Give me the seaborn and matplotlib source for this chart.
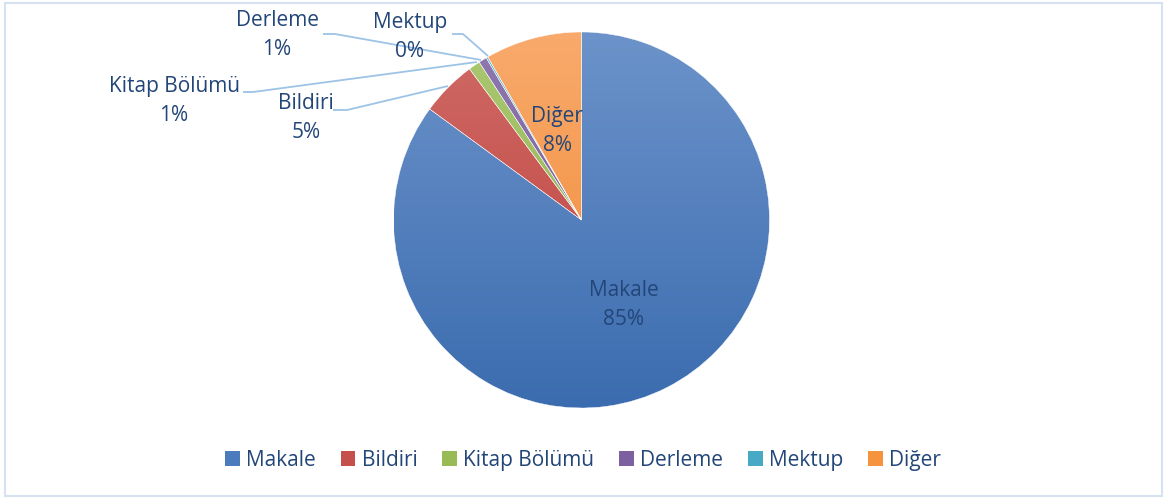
import numpy as np
import matplotlib
matplotlib.use("Agg")
import matplotlib.pyplot as plt
import seaborn as sns
from matplotlib.patches import Rectangle
from matplotlib.colors import LinearSegmentedColormap

categories = ["Makale", "Bildiri", "Kitap Bölümü", "Derleme", "Mektup", "Diğer"]
values = [85.0, 4.8, 1.0, 0.7, 0.15, 8.3]
pct_labels = ["85%", "5%", "1%", "1%", "0%", "8%"]
top_colors = ["#6c93ca", "#cf6a66", "#abc873", "#9079b0", "#62b8d0", "#f9aa6c"]
bottom_colors = ["#3b6caf", "#bf3e3a", "#8cae45", "#70558f", "#3a9cb6", "#ef8730"]
legend_colors = ["#4a7cbd", "#c44f4b", "#98bb55", "#7d60a0", "#47a9c3", "#f5933f"]

sns.set_theme(style="white")
plt.rcParams['font.family'] = ['Open Sans', 'DejaVu Sans']
text_color = "#234678"

W, H = 1166, 499
fig = plt.figure(figsize=(W / 100, H / 100), dpi=100)
ax = fig.add_axes([0, 0, 1, 1])
cx, cy, R = 581.5, 220, 188

wedges, _ = ax.pie(values, startangle=90, counterclock=False, radius=1,
                   colors=legend_colors, wedgeprops=dict(linewidth=0))
ax.set_xlim(-cx / R, (W - cx) / R)
ax.set_ylim((cy - H) / R, cy / R)
ax.set_aspect('auto')
ax.axis('off')

# gradient fill for each wedge
grad = np.linspace(0, 1, 256).reshape(-1, 1)
for w, tc, bc in zip(wedges, top_colors, bottom_colors):
    cmap = LinearSegmentedColormap.from_list("g", [bc, tc])
    im = ax.imshow(grad, cmap=cmap, extent=(-1, 1, -1, 1), origin='lower',
                   aspect='auto', zorder=w.get_zorder() + 0.1)
    im.set_clip_path(w)
for w in wedges:
    w.set_edgecolor("white")
    w.set_linewidth(0.3)
    w.set_facecolor("none")
    w.set_zorder(5)

def d(px, py):
    return ((px - cx) / R, (cy - py) / R)

fs = 15
ls = 1.45
ax.text(*d(624, 305), f"{categories[0]}\n{pct_labels[0]}", ha='center', va='center',
        fontsize=fs, color=text_color, linespacing=ls, zorder=10)
ax.text(*d(557, 131), f"{categories[5]}\n{pct_labels[5]}", ha='center', va='center',
        fontsize=fs, color=text_color, linespacing=ls, zorder=10)

outside = [
    (1, (306, 118), [(333, 110), (347, 110), (448, 86)]),
    (2, (174, 101), [(243, 92), (253, 92), (477, 62)]),
    (3, (277, 35), [(323, 34), (335, 34), (481, 60)]),
    (4, (410, 37), [(452, 34), (463, 34), (488, 56)]),
]
for idx, (tx, ty), pts in outside:
    ax.text(*d(tx, ty), f"{categories[idx]}\n{pct_labels[idx]}", ha='center', va='center',
            fontsize=fs, color=text_color, linespacing=ls, zorder=10)
    xs, ys = zip(*[d(px, py) for px, py in pts])
    ax.plot(xs, ys, color="#9dc3e6", lw=1.3, zorder=9, solid_capstyle='butt')

handles = [Rectangle((0, 0), 1, 1, facecolor=c, edgecolor='none') for c in legend_colors]
leg = fig.legend(handles, categories, loc='center', bbox_to_anchor=(0.5, 0.078),
                 ncol=6, frameon=False, fontsize=15, handlelength=0.7, handleheight=0.7,
                 handletextpad=0.3, columnspacing=1.2)
for t in leg.get_texts():
    t.set_color(text_color)

fig.patches.append(Rectangle((5 / W, 3 / H), (1162 - 5) / W, (496 - 3) / H,
                             transform=fig.transFigure, fill=False,
                             edgecolor="#d6e1f1", linewidth=1.5))

fig.savefig("out.png", dpi=100, facecolor="white")
